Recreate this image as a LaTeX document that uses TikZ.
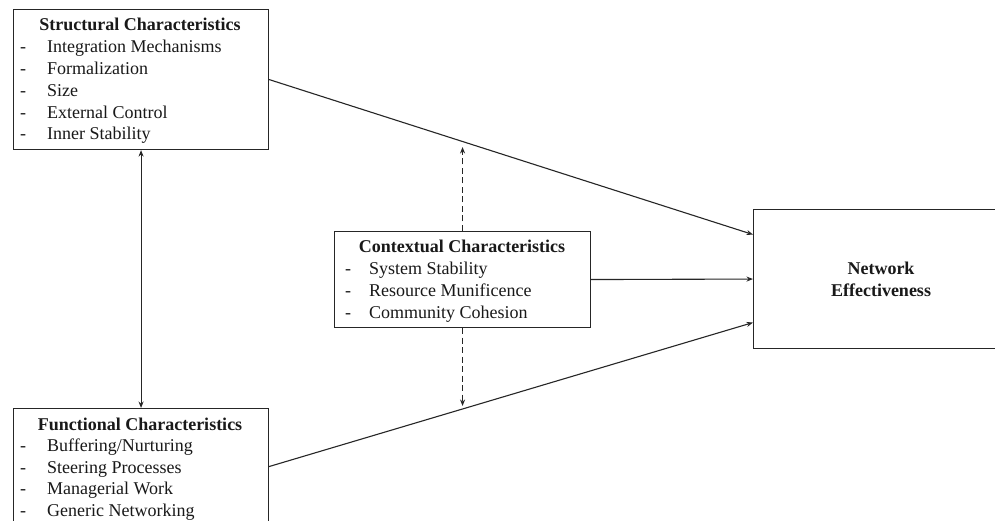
\documentclass[tikz,border=0pt]{standalone}
\usepackage{fontspec}
\setmainfont{Liberation Serif}
\usetikzlibrary{arrows.meta}
\begin{document}
\begin{tikzpicture}[x=1pt,y=-1pt,
  box/.style={draw=black!85, line width=1.1pt, rectangle, inner sep=0pt, anchor=north west},
  ttl/.style={anchor=base, font=\fontsize{18}{21.8}\selectfont\bfseries, text=black!90, inner sep=0pt},
  item/.style={anchor=base west, font=\fontsize{18}{21.8}\selectfont, text=black!90, inner sep=0pt},
  tip/.style={Stealth[length=6.5pt,width=5pt]},
  conn/.style={draw=black!85, line width=1.1pt, -{Stealth[length=6.5pt,width=5pt]}},
  both/.style={draw=black!85, line width=1.1pt, {Stealth[length=6.5pt,width=5pt]}-{Stealth[length=6.5pt,width=5pt]}},
  dsh/.style={draw=black!85, line width=1.1pt, dash pattern=on 6pt off 3.5pt, -{Stealth[length=6.5pt,width=5pt]}}
]
\useasboundingbox (0,0) rectangle (995,521);
\fill[white] (0,0) rectangle (995,521);

% boxes
\node[box, minimum width=255pt, minimum height=140pt] (s) at (13,9) {};
\node[box, minimum width=255pt, minimum height=116pt] (f) at (13,408) {};
\node[box, minimum width=256pt, minimum height=96pt] (c) at (334,231) {};
\node[box, minimum width=257pt, minimum height=139pt] (n) at (753,209) {};

% structural characteristics
\node[ttl] (st) at (140,31) {Structural Characteristics};
\foreach \t [count=\i] in {Integration Mechanisms, Formalization, Size, External Control, Inner Stability}{
  \node[item] (sd\i) at (20,{31+21.8*\i}) {-};
  \node[item] (si\i) at (47,{31+21.8*\i}) {\t};
}

% functional characteristics
\node[ttl] (ft) at (140,430) {Functional Characteristics};
\foreach \t [count=\i] in {Buffering/Nurturing, Steering Processes, Managerial Work, Generic Networking}{
  \node[item] (fd\i) at (20,{430+21.6*\i}) {-};
  \node[item] (fi\i) at (47,{430+21.6*\i}) {\t};
}

% contextual characteristics
\node[ttl] (ct) at (462,252) {Contextual Characteristics};
\foreach \t [count=\i] in {System Stability, Resource Munificence, Community Cohesion}{
  \node[item] (cd\i) at (345,{252+22*\i}) {-};
  \node[item] (ci\i) at (369,{252+22*\i}) {\t};
}

% outcome
\node[ttl] (nt1) at (881,274) {Network};
\node[ttl] (nt2) at (881,296) {Effectiveness};

% connectors
\draw[conn] (s.east) -- ([yshift=44.5pt]n.west);
\draw[conn] (c.east) -- (n.west);
\draw[conn] (f.east) -- ([yshift=-43.5pt]n.west);
\draw[both] (s.south) -- (f.north);

\coordinate (up) at (462,147);
\coordinate (dn) at (462,406);
\draw[dsh] (c.north) -- (c.north |- up);
\draw[dsh] (c.south) -- (c.south |- dn);
\end{tikzpicture}
\end{document}
